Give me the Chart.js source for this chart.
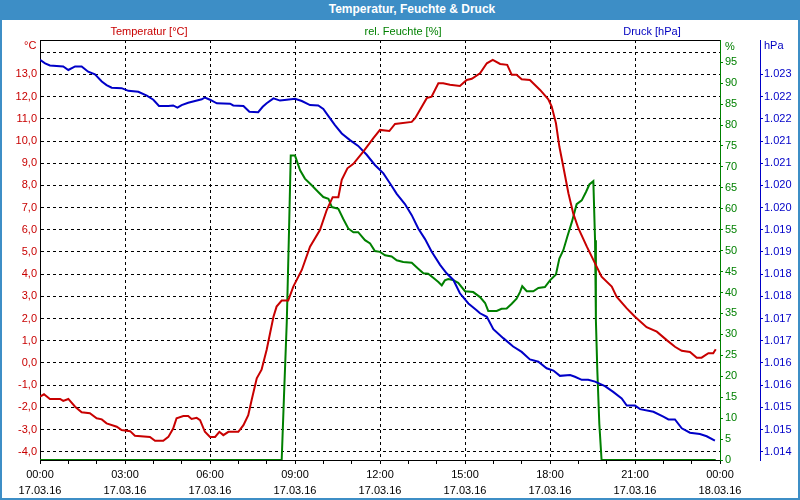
<!DOCTYPE html>
<html>
<head>
<meta charset="utf-8">
<script src="https://cdn.jsdelivr.net/npm/chart.js@4/dist/chart.umd.min.js"></script>
<style>
  body { margin: 0; background: #fff; }
  #frame { position: relative; width: 800px; height: 500px; background: #3d8ec6;
           font-family: "Liberation Sans", Arial, sans-serif; font-size: 11px; }
  #inner { position: absolute; left: 2px; top: 20px; width: 796px; height: 478px; background: #fff; }
  #chart { position: absolute; left: 0; top: 0; }
  .lbl { position: absolute; white-space: nowrap; line-height: 13px; }
  .c { transform: translateX(-50%); }
  #title { left: 412px; top: 3px; color: #fff; font-weight: bold; font-size: 12px; }
</style>
</head>
<body>
<div id="frame">
  <div id="title" class="lbl c">Temperatur, Feuchte &amp; Druck</div>
  <div id="inner"><canvas id="chart" width="796" height="478"></canvas></div>
  <div class="lbl c" style="left:149px; top:25px; color:#c80000;">Temperatur [°C]</div>
  <div class="lbl c" style="left:403px; top:25px; color:#008000;">rel. Feuchte [%]</div>
  <div class="lbl c" style="left:652px; top:25px; color:#0000c0;">Druck [hPa]</div>
  <div class="lbl" style="left:24px; top:39px; color:#c80000;">°C</div>
  <div class="lbl" style="left:725px; top:40px; color:#008000;">%</div>
  <div class="lbl" style="left:764px; top:39px; color:#0000c0;">hPa</div>
</div>
<script>
// time axis (hours since 17.03.16 00:00)
const xTickLabels = [
  ["00:00", "17.03.16"], ["03:00", "17.03.16"], ["06:00", "17.03.16"],
  ["09:00", "17.03.16"], ["12:00", "17.03.16"], ["15:00", "17.03.16"],
  ["18:00", "17.03.16"], ["21:00", "17.03.16"], ["00:00", "18.03.16"]
];

// temperature [°C]
const tempHours = [0.00, 0.14, 0.35, 0.71, 0.82, 1.00, 1.24, 1.47, 1.76, 2.00, 2.18, 2.35, 2.71, 2.88,
  3.18, 3.35, 3.88, 4.06, 4.35, 4.53, 4.70, 4.82, 5.06, 5.23, 5.35, 5.53, 5.65, 5.82, 6.00, 6.18,
  6.33, 6.47, 6.65, 7.00, 7.18, 7.35, 7.47, 7.65, 7.82, 8.00, 8.12, 8.24, 8.35, 8.53, 8.76, 8.94,
  9.24, 9.53, 9.88, 10.12, 10.33, 10.53, 10.65, 10.85, 11.06, 11.41, 11.76, 12.00, 12.33, 12.53,
  13.12, 13.24, 13.65, 13.82, 14.06, 14.23, 14.47, 14.82, 15.06, 15.24, 15.53, 15.77, 15.98, 16.24,
  16.49, 16.65, 16.82, 17.00, 17.29, 17.65, 17.94, 18.06, 18.21, 18.33, 18.47, 18.65, 18.82, 19.00,
  19.30, 19.59, 19.82, 20.18, 20.35, 20.71, 21.00, 21.41, 21.77, 22.12, 22.41, 22.65, 22.94, 23.18,
  23.35, 23.59, 23.76, 23.85];
const tempValues = [-1.52, -1.41, -1.62, -1.62, -1.71, -1.62, -1.97, -2.22, -2.26, -2.49, -2.54, -2.72, -2.87, -3.02,
  -3.07, -3.28, -3.33, -3.50, -3.50, -3.33, -2.95, -2.49, -2.39, -2.39, -2.52, -2.47, -2.57, -3.10, -3.33, -3.33,
  -3.10, -3.25, -3.10, -3.10, -2.80, -2.35, -1.67, -0.69, -0.30, 0.60, 1.34, 2.08, 2.54, 2.81, 2.81, 3.44,
  4.19, 5.24, 5.99, 6.89, 7.47, 7.47, 8.25, 8.77, 8.97, 9.52, 10.12, 10.50, 10.45, 10.77,
  10.86, 11.03, 11.93, 12.00, 12.60, 12.60, 12.53, 12.48, 12.75, 12.80, 13.05, 13.50, 13.65, 13.47,
  13.43, 12.98, 12.98, 12.78, 12.75, 12.30, 11.88, 11.55, 10.80, 9.75, 8.84, 7.65, 6.74, 6.07,
  5.24, 4.49, 3.89, 3.44, 2.99, 2.46, 2.08, 1.61, 1.41, 1.03, 0.73, 0.55, 0.50, 0.24,
  0.24, 0.44, 0.44, 0.62];

// relative humidity [%]
const humHours = [0.00, 8.53, 8.61, 8.71, 8.79, 8.85, 9.00, 9.18, 9.35, 9.59, 9.82, 10.00, 10.18, 10.30,
  10.53, 10.70, 10.88, 11.06, 11.23, 11.47, 11.65, 11.82, 12.00, 12.18, 12.41, 12.59, 12.82, 13.12,
  13.35, 13.53, 13.70, 13.88, 14.06, 14.18, 14.29, 14.41, 14.57, 14.76, 15.00, 15.29, 15.53, 15.71,
  15.82, 16.12, 16.29, 16.47, 16.65, 16.82, 16.94, 17.02, 17.18, 17.41, 17.59, 17.82, 18.00, 18.21,
  18.33, 18.47, 18.61, 18.77, 18.94, 19.12, 19.27, 19.39, 19.53, 19.59, 19.62, 19.67, 19.74, 19.82,
  23.85];
const humValues = [0, 0, 15, 33, 55, 72.7, 72.7, 69.2, 67.2, 65.6, 64.0, 62.8, 62.4, 60.4,
  60.0, 57.6, 55.3, 54.4, 54.4, 52.5, 51.7, 49.9, 49.7, 48.9, 48.6, 47.7, 47.3, 47.1,
  45.7, 44.6, 44.5, 43.5, 42.5, 41.7, 42.9, 43.2, 43.0, 42.3, 40.3, 40.1, 38.9, 37.5,
  35.6, 35.6, 36.1, 36.2, 37.3, 38.5, 40.1, 41.5, 40.3, 40.3, 41.1, 41.3, 42.9, 44.3,
  48.1, 50.1, 53.3, 56.8, 61.1, 62.0, 64.0, 65.8, 66.6, 52.5, 33.3, 21.4, 8.7, 0,
  0];

// air pressure [hPa]
const presHours = [0.00, 0.18, 0.35, 0.82, 1.00, 1.24, 1.47, 1.70, 1.94, 2.18, 2.35, 2.53, 2.88, 3.12,
  3.47, 3.77, 4.00, 4.20, 4.53, 4.70, 4.85, 5.00, 5.23, 5.47, 5.71, 5.82, 6.00, 6.24, 6.71, 6.82,
  7.18, 7.39, 7.70, 7.86, 8.00, 8.24, 8.47, 8.71, 9.00, 9.24, 9.53, 9.82, 10.00, 10.18, 10.41,
  10.65, 10.94, 11.23, 11.53, 11.82, 12.12, 12.35, 12.59, 12.88, 13.12, 13.35, 13.59, 13.82, 14.12,
  14.35, 14.59, 14.82, 15.12, 15.41, 15.53, 15.77, 16.00, 16.35, 16.70, 17.00, 17.29, 17.59, 17.88,
  18.12, 18.35, 18.71, 18.88, 19.12, 19.35, 19.59, 19.94, 20.23, 20.53, 20.71, 21.00, 21.18, 21.65,
  22.00, 22.18, 22.41, 22.65, 22.94, 23.29, 23.53, 23.82];
const presValues = [1023.03, 1022.95, 1022.90, 1022.88, 1022.80, 1022.88, 1022.88, 1022.76, 1022.70, 1022.54, 1022.46, 1022.40, 1022.39, 1022.33,
  1022.31, 1022.22, 1022.13, 1021.99, 1021.99, 1022.00, 1021.95, 1022.01, 1022.06, 1022.10, 1022.14, 1022.18, 1022.13, 1022.05, 1022.04, 1022.00,
  1021.99, 1021.86, 1021.85, 1021.97, 1022.05, 1022.16, 1022.11, 1022.13, 1022.15, 1022.10, 1022.01, 1022.00, 1021.92, 1021.76, 1021.56,
  1021.37, 1021.22, 1021.09, 1020.89, 1020.66, 1020.47, 1020.25, 1020.01, 1019.78, 1019.53, 1019.23, 1018.99, 1018.71, 1018.41,
  1018.22, 1018.07, 1017.77, 1017.54, 1017.39, 1017.32, 1017.24, 1016.96, 1016.76, 1016.57, 1016.45, 1016.28, 1016.23, 1016.08,
  1016.03, 1015.91, 1015.93, 1015.89, 1015.82, 1015.82, 1015.78, 1015.68, 1015.55, 1015.40, 1015.24, 1015.24, 1015.16, 1015.10,
  1014.99, 1014.93, 1014.93, 1014.73, 1014.63, 1014.60, 1014.55, 1014.45];

// axis ticks
const tempTicks = [-4, -3, -2, -1, 0, 1, 2, 3, 4, 5, 6, 7, 8, 9, 10, 11, 12, 13, 14];
const presTicks = [1014.2, 1014.7, 1015.2, 1015.7, 1016.2, 1016.7, 1017.2, 1017.7, 1018.2,
  1018.7, 1019.2, 1019.7, 1020.2, 1020.7, 1021.2, 1021.7, 1022.2, 1022.7];
const presTickLabels = ["1.014", "1.015", "1.015", "1.016", "1.016", "1.017", "1.017", "1.018", "1.018",
  "1.019", "1.019", "1.020", "1.020", "1.021", "1.021", "1.022", "1.022", "1.023"];

const RED = "#c80000", GREEN = "#008000", BLUE = "#0000c8";

function toPoints(hours, values) {
  return hours.map((h, i) => ({ x: h, y: values[i] }));
}

// black line on top of the plot area
const topLine = {
  id: "topLine",
  afterDraw(chart) {
    const { ctx, chartArea: a } = chart;
    ctx.save();
    ctx.strokeStyle = "#000";
    ctx.lineWidth = 1;
    ctx.beginPath();
    ctx.moveTo(a.left, a.top + 0.5);
    ctx.lineTo(a.right, a.top + 0.5);
    ctx.stroke();
    ctx.restore();
  }
};

Chart.defaults.font.family = "'Liberation Sans', Arial, sans-serif";
Chart.defaults.font.size = 11;

const chart = new Chart(document.getElementById("chart").getContext("2d"), {
  type: "line",
  data: {
    datasets: [
      { data: toPoints(tempHours, tempValues), yAxisID: "yT", borderColor: RED, borderWidth: 2 },
      { data: toPoints(presHours, presValues), yAxisID: "yP", borderColor: BLUE, borderWidth: 2 },
      { data: toPoints(humHours, humValues), yAxisID: "yH", borderColor: GREEN, borderWidth: 2 }
    ]
  },
  options: {
    responsive: false,
    animation: false,
    parsing: false,
    elements: { point: { radius: 0 }, line: { tension: 0 } },
    layout: { padding: { top: 20, left: 0, right: 0, bottom: 0 } },
    plugins: { legend: { display: false }, tooltip: { enabled: false } },
    scales: {
      x: {
        type: "linear",
        min: 0, max: 24,
        afterFit: s => { s.height = 38; },
        ticks: {
          stepSize: 1, autoSkip: false, maxRotation: 0, padding: 3, color: "#000",
          font: { lineHeight: 1.45 },
          callback: v => (v % 3 === 0 ? xTickLabels[v / 3] : "")
        },
        grid: {
          color: c => (c.tick && c.tick.value % 3 === 0 && c.tick.value > 0 && c.tick.value < 24) ? "#000" : "rgba(0,0,0,0)",
          tickColor: "#000",
          tickLength: 4
        },
        border: { color: "#000", dash: [3, 3] }
      },
      yT: {
        position: "left",
        min: -4.37, max: 14.55,
        afterFit: s => { s.width = 38; },
        afterBuildTicks: s => { s.ticks = tempTicks.map(v => ({ value: v })); },
        ticks: {
          color: RED, padding: 3,
          callback: v => (v === 14 ? "" : v.toFixed(1).replace(".", ","))
        },
        grid: { color: "#000", drawTicks: false },
        border: { color: "#000", dash: [3, 3] }
      },
      yH: {
        position: "right",
        min: 0, max: 100.3,
        afterFit: s => { s.width = 40; },
        afterBuildTicks: s => { s.ticks = s.ticks.filter(t => t.value <= 95); },
        ticks: { stepSize: 5, color: GREEN, padding: 2 },
        grid: { drawOnChartArea: false, color: GREEN, tickLength: 3 },
        border: { color: GREEN }
      },
      yP: {
        position: "right",
        min: 1014.015, max: 1023.475,
        afterFit: s => { s.width = 38; },
        afterBuildTicks: s => { s.ticks = presTicks.map(v => ({ value: v })); },
        ticks: {
          color: BLUE, padding: 1,
          callback: (v, i) => presTickLabels[i]
        },
        grid: { drawOnChartArea: false, color: BLUE, tickLength: 3 },
        border: { color: BLUE }
      }
    }
  },
  plugins: [topLine]
});
</script>
</body>
</html>
